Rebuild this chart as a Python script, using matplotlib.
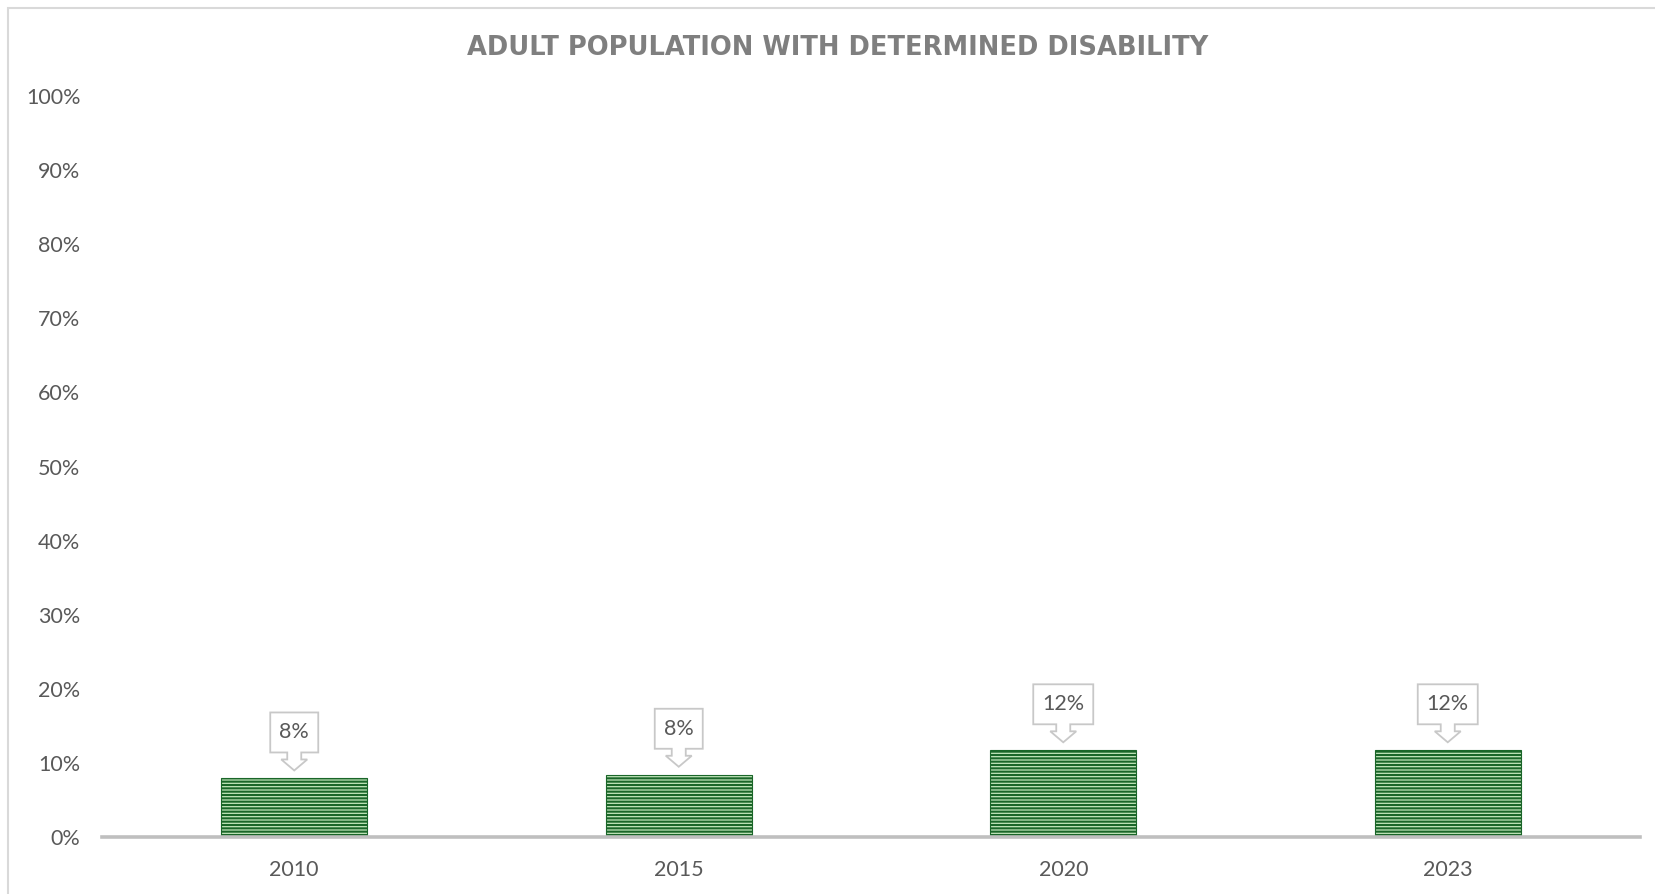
import numpy as np
import matplotlib
matplotlib.use('Agg')
from matplotlib import pyplot as plt
from matplotlib.patches import Polygon, Rectangle
from matplotlib.transforms import ScaledTranslation

years = ['2010', '2015', '2020', '2023']
values = [7.9, 8.4, 11.7, 11.7]
labels = ['8%', '8%', '12%', '12%']
yticks = [0, 10, 20, 30, 40, 50, 60, 70, 80, 90, 100]

plt.rcParams['font.family'] = ['Lato', 'DejaVu Sans']
plt.rcParams['hatch.linewidth'] = 1.5

fig = plt.figure(figsize=(16.55, 8.94), dpi=100)
ax = fig.add_axes([102/1655, 1-837/894, (1640-102)/1655, (837-96)/894])

# outer chart border (left and top visible)
fig.patches.append(Rectangle((8/1655, -0.1), 1.2, 1-8/894+0.1, transform=fig.transFigure,
                             fill=False, edgecolor='#d9d9d9', lw=1.5))

x = np.arange(len(years))
ax.bar(x, values, width=0.38, color='#c2e6bb', edgecolor='#1a6629', hatch='-----', lw=0.8, zorder=2)

ax.set_xlim(-0.5, 3.5)
ax.set_ylim(0, 100)
ax.set_yticks(yticks)
ax.set_yticklabels([f'{t}%' for t in yticks])
ax.set_xticks(x)
ax.set_xticklabels(years)
ax.tick_params(length=0, labelsize=15.5, labelcolor='#595959')
ax.tick_params(axis='y', pad=15.5)
ax.tick_params(axis='x', pad=16.5)
for s in ['top', 'right', 'left']:
    ax.spines[s].set_visible(False)
ax.spines['bottom'].set_color('#bfbfbf')
ax.spines['bottom'].set_linewidth(2.6)
ax.spines['bottom'].set_zorder(3)

# down-arrow callouts, shape in inches, anchored at bar top
for i, (v, lab) in enumerate(zip(values, labels)):
    hw = (12 + 6*len(lab)) / 100
    pts = np.array([[0, 8], [-13, 19], [-7, 19], [-7, 26], [-hw*100, 26], [-hw*100, 66],
                    [hw*100, 66], [hw*100, 26], [7, 26], [7, 19], [13, 19]]) / 100
    tr = fig.dpi_scale_trans + ScaledTranslation(i, v, ax.transData)
    ax.add_patch(Polygon(pts, closed=True, transform=tr, facecolor='white',
                         edgecolor='#c8c8c8', lw=1.3, zorder=4, clip_on=False))
    ax.text(0, 0.46, lab, transform=tr, ha='center', va='center', fontsize=15.5,
            color='#595959', zorder=5)

fig.text(0.506, 1-48/894, 'ADULT POPULATION WITH DETERMINED DISABILITY', ha='center', va='center',
         fontsize=18.5, fontweight='bold', color='#7f7f7f', family=['DejaVu Sans'])

fig.savefig('out.png', dpi=100)
